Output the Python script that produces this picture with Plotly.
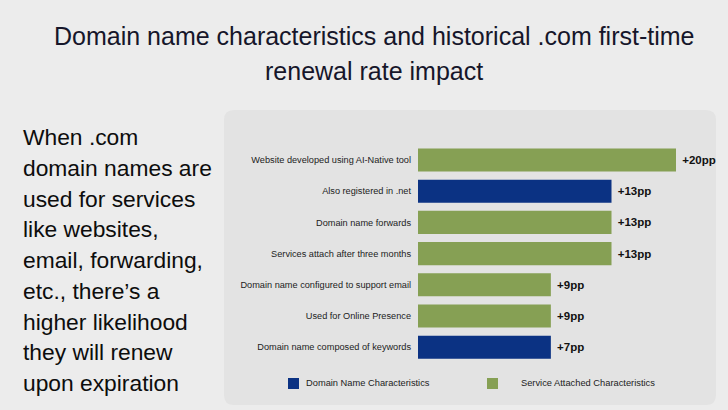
import plotly.graph_objects as go

# ---- data ----
categories = [
    "Website developed using AI-Native tool",
    "Also registered in .net",
    "Domain name forwards",
    "Services attach after three months",
    "Domain name configured to support email",
    "Used for Online Presence",
    "Domain name composed of keywords",
]
value_labels = ["+20pp", "+13pp", "+13pp", "+13pp", "+9pp", "+9pp", "+7pp"]
bar_lengths = [20, 15.0, 15.0, 15.0, 10.3, 10.3, 10.3]  # as drawn in picture
groups = ["Service", "Domain", "Service", "Service", "Service", "Service", "Domain"]
series_names = {"Domain": "Domain Name Characteristics", "Service": "Service Attached Characteristics"}
series_colors = {"Domain": "#0B3283", "Service": "#86A054"}

title_lines = ["Domain name characteristics and historical .com first-time",
               "renewal rate impact"]
side_lines = ["When .com", "domain names are", "used for services", "like websites,",
              "email, forwarding,", "etc., there\u2019s a", "higher likelihood",
              "they will renew", "upon expiration"]

W, H = 728, 410
FONT = "Liberation Sans, Arial, sans-serif"

def px(x):
    return x / W

def py(y):
    return 1 - y / H

fig = go.Figure()
for key in ["Domain", "Service"]:
    ys = [c for c, g in zip(categories, groups) if g == key]
    xs = [v for v, g in zip(bar_lengths, groups) if g == key]
    ts = [t for t, g in zip(value_labels, groups) if g == key]
    fig.add_trace(go.Bar(
        y=ys, x=xs, orientation="h", name=series_names[key],
        marker=dict(color=series_colors[key], line=dict(width=0)),
        text=ts, texttemplate="\u00a0%{text}", textposition="outside", cliponaxis=False,
        textfont=dict(family=FONT, size=11.5, color="#111111", weight="bold"),
        showlegend=False, hoverinfo="skip",
    ))

# plot geometry (pixels)
x0, x1 = 418, 716
scale = 258 / 20  # px per unit
rng = (x1 - x0) / scale
row_top, row_bot = 144.4, 362.8

fig.update_layout(
    width=W, height=H,
    margin=dict(l=0, r=0, t=0, b=0),
    paper_bgcolor="#ECECEC",
    plot_bgcolor="rgba(0,0,0,0)",
    barmode="relative",
    bargap=0.26,
    font=dict(family=FONT, color="#1c1c1c"),
    xaxis=dict(domain=[px(x0), px(x1)], range=[0, rng], visible=False, fixedrange=True),
    yaxis=dict(domain=[py(row_bot), py(row_top)], categoryorder="array",
               categoryarray=categories, autorange="reversed",
               showgrid=False, zeroline=False, showline=False, ticks="",
               ticklabelstandoff=6, fixedrange=True,
               tickfont=dict(family=FONT, size=9.2, color="#1c1c1c")),
)

# rounded panel behind chart
pl, pr, pt, pb = 224, 716, 110, 405
r = 10
rx, ry = r / W, r / H
L, R_, T, B = px(pl), px(pr), py(pt), py(pb)
path = (f"M {L+rx},{T} L {R_-rx},{T} Q {R_},{T} {R_},{T-ry} "
        f"L {R_},{B+ry} Q {R_},{B} {R_-rx},{B} L {L+rx},{B} Q {L},{B} {L},{B+ry} "
        f"L {L},{T-ry} Q {L},{T} {L+rx},{T} Z")
fig.add_shape(type="path", path=path, xref="paper", yref="paper",
              fillcolor="#E3E3E3", line=dict(width=0), layer="below")

# title lines
for i, line in enumerate(title_lines):
    fig.add_annotation(text=line, x=px(374), y=py(36 + 35 * i), xref="paper", yref="paper",
                       showarrow=False, align="center", xanchor="center", yanchor="middle",
                       font=dict(family=FONT, size=25, color="#16162a"))
# side text lines
for i, line in enumerate(side_lines):
    fig.add_annotation(text=line, x=px(21), y=py(137 + 30.75 * i), xref="paper", yref="paper",
                       showarrow=False, align="left", xanchor="left", yanchor="middle",
                       font=dict(family=FONT, size=22.8, color="#0d0d0d"))

# legend (manual)
leg_y = 383
for key, sx, tx in [("Domain", 288, 304), ("Service", 487, 519)]:
    fig.add_shape(type="rect", xref="paper", yref="paper",
                  x0=px(sx), x1=px(sx + 11), y0=py(leg_y + 6), y1=py(leg_y - 5),
                  fillcolor=series_colors[key], line=dict(width=0))
    fig.add_annotation(text=series_names[key], x=px(tx), y=py(leg_y), xref="paper", yref="paper",
                       showarrow=False, xanchor="left", yanchor="middle",
                       font=dict(family=FONT, size=9.3, color="#1c1c1c"))

fig.write_html("out.html", config={"displayModeBar": False},
               post_script="document.body.style.margin='0';")
